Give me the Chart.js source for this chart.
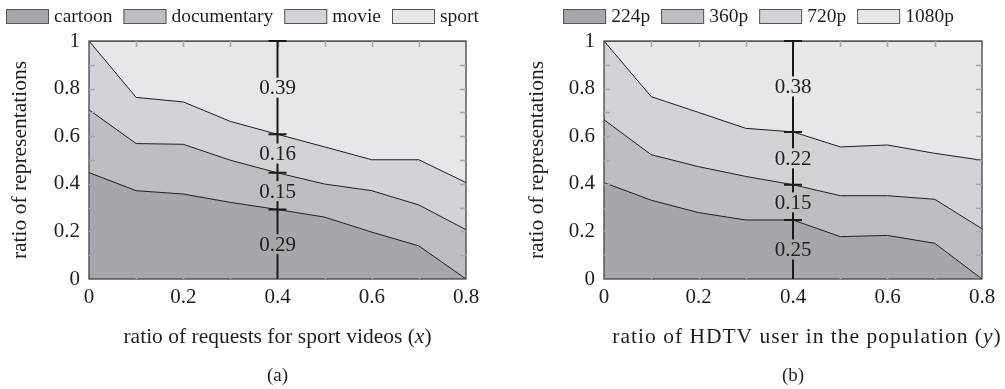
<!DOCTYPE html>
<html>
<head>
<meta charset="utf-8">
<script src="https://cdn.jsdelivr.net/npm/chart.js@4.4.0/dist/chart.umd.min.js"></script>
<style>
  html, body { margin: 0; padding: 0; background: #fff; }
  #wrap { position: relative; width: 1005px; height: 389px; overflow: hidden; }
  canvas { position: absolute; top: 0; }
  #chartA { left: 0; }
  #chartB { left: 512px; }
</style>
</head>
<body>
<div id="wrap">
  <canvas id="chartA" width="490" height="389"></canvas>
  <canvas id="chartB" width="493" height="389"></canvas>
</div>
<script>
// x positions shared by both panels
const xValues = [0, 0.1, 0.2, 0.3, 0.4, 0.5, 0.6, 0.7, 0.8];

// (a) share of representations per video genre vs. ratio of sport requests
const genreNames = ['cartoon', 'documentary', 'movie', 'sport'];
const cartoon     = [0.447, 0.371, 0.357, 0.322, 0.292, 0.260, 0.197, 0.139, 0.000];
const documentary = [0.264, 0.198, 0.209, 0.177, 0.154, 0.139, 0.174, 0.172, 0.207];
const movie       = [0.289, 0.194, 0.178, 0.163, 0.162, 0.156, 0.130, 0.190, 0.198];
const sport       = [0.000, 0.237, 0.256, 0.338, 0.392, 0.445, 0.499, 0.499, 0.595];

// (b) share of representations per resolution vs. ratio of HDTV users
const resolutionNames = ['224p', '360p', '720p', '1080p'];
const res224  = [0.405, 0.331, 0.279, 0.248, 0.248, 0.178, 0.183, 0.150, 0.000];
const res360  = [0.264, 0.191, 0.193, 0.183, 0.148, 0.172, 0.167, 0.185, 0.211];
const res720  = [0.331, 0.244, 0.228, 0.202, 0.222, 0.205, 0.213, 0.193, 0.288];
const res1080 = [0.000, 0.234, 0.300, 0.367, 0.382, 0.445, 0.437, 0.472, 0.501];

// tick labels and the x position that carries the value annotations
const xTickLabels = ['0', '0.2', '0.4', '0.6', '0.8'];
const yTickLabels = ['0', '0.2', '0.4', '0.6', '0.8', '1'];
const annotatedX = 0.4;

const layerColors = ['#a6a7ab', '#bdbec1', '#d2d3d6', '#e6e7e9'];
const FONT = "'Liberation Serif', 'DejaVu Serif', serif";
const TICK_FS = 21, TITLE_FS = 21.5, LEGEND_FS = 19.5, VALUE_FS = 21, CAPTION_FS = 19;

Chart.defaults.font.family = FONT;
Chart.defaults.font.size = TICK_FS;
Chart.defaults.color = '#1e1e1e';

function fmt(v) { return Number(v.toFixed(2)).toString(); }

// legend, axis titles, frame with inward ticks and the value bar
const panelDecor = {
  id: 'panelDecor',
  afterDatasetsDraw(chart, args, opts) {
    const ctx = chart.ctx;
    const area = chart.chartArea;
    const xs = chart.scales.x, ys = chart.scales.y;
    ctx.save();

    // frame
    ctx.strokeStyle = '#444';
    ctx.lineWidth = 1.3;
    ctx.strokeRect(area.left, area.top, area.right - area.left, area.bottom - area.top);

    // inward tick marks on all four sides
    ctx.strokeStyle = '#a8a8a8';
    ctx.lineWidth = 1.6;
    const TL = 6;
    ctx.beginPath();
    xs.ticks.forEach(t => {
      const px = Math.round(xs.getPixelForValue(t.value)) + 0.5;
      if (px <= area.left + 1 || px >= area.right - 1) return;
      ctx.moveTo(px, area.bottom); ctx.lineTo(px, area.bottom - TL);
      ctx.moveTo(px, area.top); ctx.lineTo(px, area.top + TL);
    });
    ys.ticks.forEach(t => {
      const py = Math.round(ys.getPixelForValue(t.value)) + 0.5;
      if (py <= area.top + 1 || py >= area.bottom - 1) return;
      ctx.moveTo(area.left, py); ctx.lineTo(area.left + TL, py);
      ctx.moveTo(area.right, py); ctx.lineTo(area.right - TL, py);
    });
    ctx.stroke();

    // value bar with per-layer annotations
    const idx = xValues.indexOf(annotatedX);
    const ds = chart.data.datasets;
    const bx = xs.getPixelForValue(annotatedX);
    ctx.strokeStyle = '#1a1a1a';
    ctx.lineWidth = 2;
    ctx.beginPath();
    ctx.moveTo(bx, ys.getPixelForValue(0));
    ctx.lineTo(bx, ys.getPixelForValue(1));
    ctx.stroke();
    let cum = 0;
    const bounds = [0];
    ds.forEach(d => { cum += d.data[idx].y; bounds.push(cum); });
    ctx.beginPath();
    bounds.slice(1).forEach(b => {
      const py = ys.getPixelForValue(b);
      ctx.moveTo(bx - 9, py); ctx.lineTo(bx + 9, py);
    });
    ctx.stroke();
    ctx.font = VALUE_FS + 'px ' + FONT;
    ctx.textAlign = 'center';
    ctx.textBaseline = 'middle';
    ds.forEach((d, i) => {
      const mid = ys.getPixelForValue((bounds[i] + bounds[i + 1]) / 2);
      const label = d.data[idx].y.toFixed(2);
      const w = ctx.measureText(label).width + 4;
      ctx.fillStyle = layerColors[i];
      ctx.fillRect(bx - w / 2, mid - 10, w, 20);
      ctx.fillStyle = '#1e1e1e';
      ctx.fillText(label, bx, mid + 1);
    });

    // legend
    ctx.font = LEGEND_FS + 'px ' + FONT;
    ctx.textAlign = 'left';
    const boxW = 43, boxH = 15, gapText = 5, gapItem = 11;
    const widths = ds.map(d => boxW + gapText + ctx.measureText(d.label).width);
    const total = widths.reduce((a, b) => a + b, 0) + gapItem * (ds.length - 1);
    let lx = opts.legendCenter - total / 2;
    ds.forEach((d, i) => {
      ctx.fillStyle = layerColors[i];
      ctx.fillRect(lx, 9, boxW, boxH);
      ctx.strokeStyle = '#555';
      ctx.lineWidth = 1;
      ctx.strokeRect(lx + 0.5, 9.5, boxW - 1, boxH - 1);
      ctx.fillStyle = '#1e1e1e';
      ctx.fillText(d.label, lx + boxW + gapText, 17);
      lx += widths[i] + gapItem;
    });

    // y axis title
    ctx.save();
    ctx.font = TITLE_FS + 'px ' + FONT;
    ctx.translate(opts.yTitleX, (area.top + area.bottom) / 2);
    ctx.rotate(-Math.PI / 2);
    ctx.textAlign = 'center';
    ctx.fillText('ratio of representations', 0, 0);
    ctx.restore();

    // x axis title with italic variable
    const cx = (area.left + area.right) / 2;
    ctx.save();
    ctx.letterSpacing = opts.titleSpacing + 'px';
    const parts = [[opts.xTitle + ' (', 'normal'], [opts.xVar, 'italic'], [')', 'normal']];
    let tw = 0;
    parts.forEach(p => { ctx.font = p[1] + ' ' + TITLE_FS + 'px ' + FONT; p.push(ctx.measureText(p[0]).width); tw += p[2]; });
    let tx = cx + opts.titleShift - tw / 2;
    parts.forEach(p => { ctx.font = p[1] + ' ' + TITLE_FS + 'px ' + FONT; ctx.fillText(p[0], tx, 337); tx += p[2]; });
    ctx.restore();

    // caption
    ctx.font = 'normal ' + CAPTION_FS + 'px ' + FONT;
    ctx.textAlign = 'center';
    ctx.fillText(opts.caption, cx, 376);
    ctx.restore();
  }
};

function buildChart(canvasId, names, series, cfg) {
  const datasets = names.map((name, i) => ({
    label: name,
    data: xValues.map((x, j) => ({ x: x, y: series[i][j] })),
    backgroundColor: layerColors[i],
    borderColor: '#1e1e1e',
    borderWidth: 1,
    pointRadius: 0,
    tension: 0,
    fill: i === 0 ? 'origin' : '-1'
  }));
  return new Chart(document.getElementById(canvasId), {
    type: 'line',
    data: { datasets },
    plugins: [panelDecor],
    options: {
      responsive: false,
      animation: false,
      events: [],
      layout: { padding: { top: 41, right: cfg.padRight, left: 0, bottom: 0 } },
      plugins: {
        legend: { display: false },
        tooltip: { enabled: false },
        panelDecor: cfg.decor
      },
      scales: {
        x: {
          type: 'linear', min: 0, max: 0.8,
          grid: { display: false, drawTicks: false },
          border: { display: false },
          ticks: {
            stepSize: 0.1, autoSkip: false, maxRotation: 0, padding: 6,
            callback: v => { const s = fmt(v); return xTickLabels.includes(s) ? s : ''; }
          },
          afterFit: s => { s.height = 110; }
        },
        y: {
          type: 'linear', min: 0, max: 1, stacked: true,
          grid: { display: false, drawTicks: false },
          border: { display: false },
          ticks: {
            stepSize: 0.1, autoSkip: false, padding: 9,
            callback: v => { const s = fmt(v); return yTickLabels.includes(s) ? s : ''; }
          },
          afterFit: s => { s.width = cfg.yWidth; }
        }
      }
    }
  });
}

buildChart('chartA', genreNames, [cartoon, documentary, movie, sport], {
  padRight: 24, yWidth: 89,
  decor: { legendCenter: 242.5, yTitleX: 20, xTitle: 'ratio of requests for sport videos', xVar: 'x',
           titleShift: 0, titleSpacing: 0, caption: '(a)' }
});
buildChart('chartB', resolutionNames, [res224, res360, res720, res1080], {
  padRight: 23, yWidth: 92,
  decor: { legendCenter: 246.5, yTitleX: 25, xTitle: 'ratio of HDTV user in the population', xVar: 'y',
           titleShift: 14, titleSpacing: 1, caption: '(b)' }
});
</script>
</body>
</html>
